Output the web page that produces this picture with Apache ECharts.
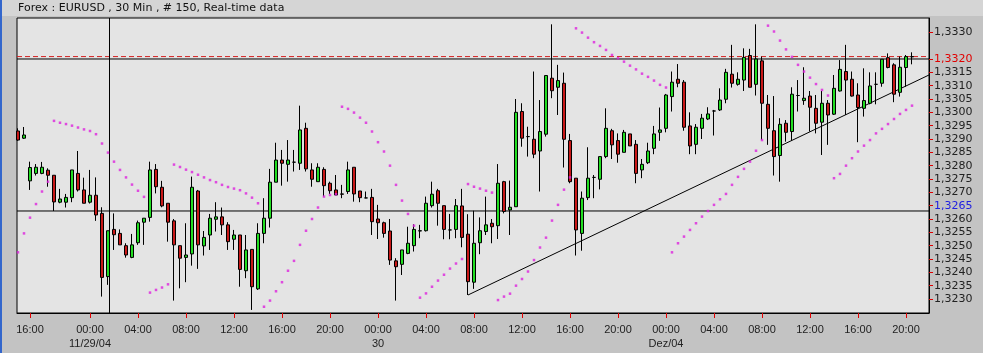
<!DOCTYPE html>
<html><head><meta charset="utf-8">
<script src="https://cdn.jsdelivr.net/npm/echarts@6/dist/echarts.min.js"></script>
<style>html,body{margin:0;padding:0;background:#c3c3c3;}#c{width:983px;height:353px;}</style>
</head><body><div id="c"></div><script>
// ---- data (30 min EURUSD, 150 bars) ----
const openVals = [1.32930,1.32903,1.32743,1.32771,1.32771,1.32783,1.32764,1.32663,1.32663,1.32680,
 1.32771,1.32709,1.32663,1.32689,1.32621,1.32384,1.32561,1.32546,1.32500,1.32456,
 1.32511,1.32588,1.32606,1.32786,1.32719,1.32659,1.32593,1.32500,1.32456,1.32469,
 1.32705,1.32499,1.32540,1.32599,1.32608,1.32578,1.32524,1.32540,1.32406,1.32486,
 1.32338,1.32546,1.32603,1.32738,1.32821,1.32805,1.32813,1.32809,1.32940,1.32784,
 1.32740,1.32786,1.32734,1.32709,1.32694,1.32703,1.32794,1.32705,1.32679,1.32681,
 1.32600,1.32586,1.32555,1.32443,1.32430,1.32471,1.32500,1.32555,1.32556,1.32650,
 1.32706,1.32650,1.32559,1.32561,1.32649,1.32543,1.32363,1.32511,1.32553,1.32584,
 1.32575,1.32740,1.32634,1.32646,1.33003,1.32909,1.32899,1.32855,1.32918,1.33128,
 1.33094,1.33109,1.32894,1.32753,1.32546,1.32680,1.32756,1.32749,1.32834,1.32931,
 1.32894,1.32850,1.32919,1.32880,1.32784,1.32811,1.32865,1.32925,1.32940,1.33059,
 1.33124,1.33113,1.32949,1.32880,1.32940,1.32975,1.33005,1.33009,1.33049,1.33143,
 1.33105,1.33121,1.33213,1.33105,1.33193,1.33030,1.32931,1.32838,1.32959,1.32928,
 1.33063,1.33044,1.33061,1.33015,1.32963,1.33034,1.32993,1.33080,1.33153,1.33124,
 1.33065,1.33015,1.33034,1.33105,1.33109,1.33205,1.33178,1.33075,1.33168,1.33209];
const highVals = [1.32940,1.32945,1.32815,1.32806,1.32814,1.32790,1.32764,1.32713,1.32694,1.32784,
 1.32855,1.32755,1.32784,1.32756,1.32644,1.32556,1.32621,1.32561,1.32509,1.32544,
 1.32594,1.32603,1.32815,1.32806,1.32743,1.32659,1.32600,1.32500,1.32584,1.32759,
 1.32709,1.32555,1.32619,1.32663,1.32643,1.32588,1.32559,1.32540,1.32540,1.32486,
 1.32584,1.32678,1.32788,1.32886,1.32859,1.32896,1.32859,1.33025,1.32961,1.32809,
 1.32809,1.32794,1.32740,1.32765,1.32728,1.32815,1.32794,1.32705,1.32703,1.32713,
 1.32653,1.32590,1.32600,1.32453,1.32484,1.32571,1.32580,1.32578,1.32684,1.32740,
 1.32713,1.32650,1.32619,1.32675,1.32713,1.32618,1.32631,1.32606,1.32684,1.32600,
 1.32806,1.32743,1.32744,1.33050,1.33034,1.32946,1.33153,1.33046,1.33138,1.33330,
 1.33178,1.33149,1.32919,1.32753,1.32703,1.32869,1.32765,1.32834,1.33015,1.32938,
 1.32921,1.32934,1.32919,1.32896,1.32825,1.32886,1.32949,1.33018,1.33069,1.33153,
 1.33181,1.33121,1.33000,1.32956,1.32994,1.33019,1.33009,1.33090,1.33163,1.33253,
 1.33150,1.33240,1.33238,1.33330,1.33209,1.33065,1.33061,1.32978,1.32971,1.33094,
 1.33121,1.33169,1.33080,1.33065,1.33080,1.33046,1.33140,1.33196,1.33253,1.33153,
 1.33109,1.33165,1.33150,1.33150,1.33199,1.33221,1.33184,1.33209,1.33215,1.33225];
const lowVals = [1.32893,1.32900,1.32709,1.32763,1.32768,1.32721,1.32630,1.32659,1.32643,1.32663,
 1.32703,1.32659,1.32658,1.32593,1.32309,1.32353,1.32484,1.32503,1.32455,1.32453,
 1.32503,1.32503,1.32590,1.32696,1.32644,1.32515,1.32294,1.32340,1.32363,1.32425,
 1.32413,1.32463,1.32484,1.32553,1.32540,1.32484,1.32484,1.32346,1.32378,1.32259,
 1.32334,1.32509,1.32568,1.32738,1.32725,1.32740,1.32778,1.32784,1.32778,1.32721,
 1.32740,1.32684,1.32694,1.32690,1.32678,1.32694,1.32665,1.32663,1.32678,1.32540,
 1.32525,1.32530,1.32428,1.32294,1.32390,1.32468,1.32478,1.32528,1.32553,1.32643,
 1.32575,1.32524,1.32524,1.32528,1.32494,1.32315,1.32338,1.32468,1.32540,1.32509,
 1.32525,1.32621,1.32540,1.32646,1.32871,1.32834,1.32828,1.32703,1.32909,1.33053,
 1.32990,1.32793,1.32734,1.32463,1.32481,1.32671,1.32678,1.32711,1.32828,1.32825,
 1.32811,1.32850,1.32874,1.32734,1.32753,1.32806,1.32843,1.32893,1.32925,1.33003,
 1.33094,1.32931,1.32843,1.32843,1.32900,1.32971,1.32913,1.33005,1.33034,1.33093,
 1.33100,1.33080,1.33094,1.33063,1.32896,1.32878,1.32763,1.32740,1.32890,1.32893,
 1.33003,1.33028,1.32928,1.32921,1.32840,1.32878,1.32990,1.33078,1.32990,1.33059,
 1.32888,1.32984,1.33030,1.33030,1.33096,1.33165,1.33038,1.33059,1.33096,1.33180];
const closeVals = [1.32896,1.32915,1.32793,1.32794,1.32794,1.32764,1.32664,1.32675,1.32681,1.32784,
 1.32709,1.32659,1.32689,1.32615,1.32381,1.32556,1.32541,1.32503,1.32465,1.32503,
 1.32586,1.32603,1.32784,1.32721,1.32649,1.32588,1.32503,1.32453,1.32465,1.32719,
 1.32503,1.32531,1.32603,1.32608,1.32578,1.32515,1.32540,1.32411,1.32484,1.32346,
 1.32546,1.32603,1.32738,1.32821,1.32809,1.32821,1.32813,1.32934,1.32788,1.32749,
 1.32794,1.32725,1.32706,1.32690,1.32693,1.32784,1.32694,1.32680,1.32679,1.32590,
 1.32586,1.32546,1.32446,1.32421,1.32484,1.32509,1.32561,1.32556,1.32659,1.32693,
 1.32659,1.32561,1.32559,1.32650,1.32531,1.32365,1.32509,1.32556,1.32578,1.32571,
 1.32734,1.32628,1.32644,1.33000,1.32903,1.32909,1.32843,1.32928,1.33138,1.33081,
 1.33119,1.32899,1.32740,1.32559,1.32678,1.32753,1.32756,1.32834,1.32940,1.32878,
 1.32843,1.32925,1.32874,1.32771,1.32805,1.32855,1.32919,1.32934,1.33065,1.33113,
 1.33109,1.32944,1.32874,1.32944,1.32978,1.32994,1.33005,1.33046,1.33150,1.33109,
 1.33124,1.33206,1.33094,1.33200,1.33034,1.32940,1.32834,1.32955,1.32925,1.33068,
 1.33063,1.33053,1.33019,1.32959,1.33034,1.32990,1.33090,1.33161,1.33121,1.33061,
 1.33018,1.33044,1.33099,1.33105,1.33199,1.33168,1.33068,1.33169,1.33209,1.33208];
const sarVals = [1.32475,1.32546,1.32605,1.32656,1.32703,1.32740,1.32968,1.32961,1.32956,1.32950,
 1.32943,1.32936,1.32930,1.32918,1.32883,1.32849,1.32815,1.32784,1.32756,1.32729,
 1.32706,1.32683,1.32324,1.32334,1.32343,1.32355,1.32804,1.32795,1.32785,1.32776,
 1.32766,1.32756,1.32746,1.32738,1.32728,1.32720,1.32714,1.32708,1.32696,1.32680,
 1.32659,1.32271,1.32294,1.32329,1.32363,1.32406,1.32443,1.32503,1.32556,1.32600,
 1.32643,1.32684,1.32690,1.32693,1.33021,1.33013,1.32999,1.32980,1.32961,1.32928,
 1.32888,1.32853,1.32800,1.32728,1.32669,1.32619,1.32575,1.32305,1.32321,1.32346,
 1.32369,1.32391,1.32414,1.32433,1.32450,1.32731,1.32721,1.32714,1.32706,1.32699,
 1.32296,1.32309,1.32320,1.32350,1.32375,1.32403,1.32446,1.32493,1.32530,1.32594,
 1.32653,1.32710,1.32756,1.33315,1.33299,1.33280,1.33263,1.33249,1.33234,1.33215,
 1.33203,1.33190,1.33175,1.33161,1.33145,1.33133,1.33119,1.33103,1.33093,1.32475,
 1.32509,1.32534,1.32559,1.32584,1.32609,1.32630,1.32653,1.32674,1.32694,1.32728,
 1.32758,1.32788,1.32815,1.32856,1.32896,1.33325,1.33303,1.33269,1.33236,1.33208,
 1.33178,1.33153,1.33130,1.33106,1.33084,1.33063,1.32753,1.32769,1.32800,1.32828,
 1.32853,1.32875,1.32896,1.32921,1.32938,1.32956,1.32975,1.32994,1.33009,1.33025];

// x axis ticks (bar index) and labels
const timeTickIndex = [2,12,20,28,36,44,52,60,68,76,84,92,100,108,116,124,132,140,148];
const timeTickLabels = ['16:00','00:00','04:00','08:00','12:00','16:00','20:00','00:00','04:00','08:00',
  '12:00','16:00','20:00','00:00','04:00','08:00','12:00','16:00','20:00'];
const dateLabels = ['','11/29/04','','','','','','30','','','','','','Dez/04','','','','',''];
// y axis tick labels
const yTickVals = [1.3230,1.3235,1.3240,1.3245,1.3250,1.3255,1.3260,1.3265,1.3270,1.3275,1.3280,
  1.3285,1.3290,1.3295,1.3300,1.3305,1.3310,1.3315,1.3320,1.3330];
const redLabelVal = 1.3320, blueLabelVal = 1.3265;
// drawn lines
const resistLevel = 1.33200;   // black horizontal
const alertLevel = 1.33209;    // red dashed
const crossY = 1.32630;        // crosshair horizontal
const crossX = 15.25;          // crosshair vertical (bar index)
const trendStart = [75, 1.32315];
const trendEnd = [151.83, 1.33140];

const X_MIN = -0.167, X_MAX = 151.833, Y_MIN = 1.322475, Y_MAX = 1.333537;

const candleData = openVals.map((o, i) => [i, o, closeVals[i], lowVals[i], highVals[i]]);
const sarData = sarVals.map((v, i) => [i, v]);

function seg(data, color, type, z) {
  return {type: 'line', data: data, symbol: 'none', silent: true, z: z || 3, animation: false,
    lineStyle: {color: color, width: 1, type: type || 'solid'}};
}

const chart = echarts.init(document.getElementById('c'), null, {renderer: 'canvas'});
chart.setOption({
  animation: false,
  backgroundColor: '#c3c3c3',
  graphic: [
    {type: 'rect', left: 0, top: 0, z: -10, shape: {width: 983, height: 16}, style: {fill: '#d5d5d5'}},
    {type: 'rect', left: 0, top: 0, z: 10, shape: {width: 2, height: 353}, style: {fill: '#3366cc'}},
    {type: 'text', left: 18, top: 3, z: 10, style: {text: 'Forex : EURUSD , 30 Min , # 150, Real-time data',
      font: '11px "DejaVu Sans"', fill: '#111'}}
  ],
  grid: {left: 17, top: 18, width: 912, height: 295, show: true, backgroundColor: '#e4e4e4',
    borderColor: '#000', borderWidth: 1},
  xAxis: {
    type: 'value', min: X_MIN, max: X_MAX, position: 'bottom',
    axisLine: {show: true, onZero: false, lineStyle: {color: '#000', width: 1}}, splitLine: {show: false},
    axisTick: {show: true, inside: false, customValues: timeTickIndex, length: 5, lineStyle: {color: '#e00000'}},
    axisLabel: {
      customValues: timeTickIndex,
      formatter: function (v) {
        const k = timeTickIndex.indexOf(Math.round(v));
        if (k < 0) return '';
        return timeTickLabels[k] + '\n' + (dateLabels[k] || ' ');
      },
      margin: 10, fontFamily: 'Liberation Sans', fontSize: 11, lineHeight: 14, color: '#222'
    }
  },
  yAxis: {
    type: 'value', position: 'right', min: Y_MIN, max: Y_MAX,
    axisLine: {show: true, onZero: false, lineStyle: {color: '#000', width: 1}}, splitLine: {show: false},
    axisTick: {show: true, inside: false, customValues: yTickVals, length: 4, lineStyle: {color: '#e00000'}},
    axisLabel: {
      customValues: yTickVals,
      formatter: v => Number(v).toFixed(4).replace('.', ','),
      color: function (v) {
        const n = Number(v);
        if (Math.abs(n - redLabelVal) < 1e-6) return '#e00000';
        if (Math.abs(n - blueLabelVal) < 1e-6) return '#2020e0';
        return '#222';
      },
      margin: 5, fontFamily: 'DejaVu Sans', fontSize: 11
    }
  },
  series: [
    seg([trendStart, trendEnd], '#000'),
    seg([[X_MIN, resistLevel], [X_MAX, resistLevel]], '#000'),
    seg([[X_MIN, alertLevel], [X_MAX, alertLevel]], '#d42020', [5, 3]),
    seg([[X_MIN, crossY], [X_MAX, crossY]], '#000'),
    seg([[crossX, Y_MIN], [crossX, Y_MAX]], '#000'),
    {
      type: 'candlestick', data: candleData, barWidth: 3, z: 4,
      encode: {x: 0, y: [1, 2, 3, 4]},
      itemStyle: {color: '#22dd22', color0: '#c81818', borderColor: '#000', borderColor0: '#000', borderWidth: 1}
    },
    {
      type: 'scatter', data: sarData, symbol: 'rect', symbolSize: 2.5, z: 5,
      itemStyle: {color: '#dd22dd'}
    }
  ]
});
</script></body></html>
